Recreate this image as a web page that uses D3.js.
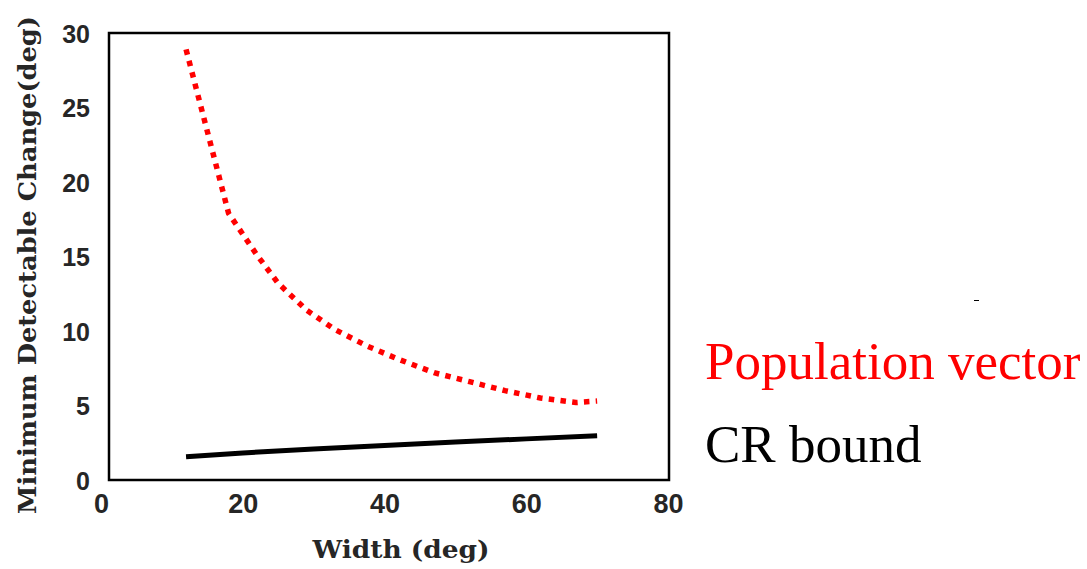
<!DOCTYPE html>
<html>
<head>
<meta charset="utf-8">
<script src="https://cdn.jsdelivr.net/npm/d3@7"></script>
<style>
  html, body { margin: 0; padding: 0; background: #fff; }
  svg { display: block; }
</style>
</head>
<body>
<svg id="chart" width="1087" height="569"></svg>
<script>
// Tuning width (deg) and minimum detectable change (deg)
const popWidths   = [12, 18, 22, 25, 29, 33, 37.5, 42, 47, 52, 57, 62, 67, 70];
const popValues   = [28.9, 17.9, 15.1, 13.2, 11.4, 10.1, 9.0, 8.1, 7.2, 6.6, 6.0, 5.5, 5.2, 5.3];
const crWidths    = [12, 20, 30, 40, 50, 60, 70];
const crValues    = [1.56, 1.82, 2.08, 2.32, 2.55, 2.76, 2.97];
const xTicks      = [0, 20, 40, 60, 80];
const yTicks      = [0, 5, 10, 15, 20, 25, 30];
const legendNames = ["Population vector", "CR bound"];

const svg = d3.select("#chart");

const x = d3.scaleLinear().domain([0, 80]).range([101, 668]);
const y = d3.scaleLinear().domain([0, 30]).range([480, 33]);

// plot frame
svg.append("rect")
  .attr("x", 109).attr("y", 33)
  .attr("width", 560).attr("height", 447)
  .attr("fill", "none").attr("stroke", "#000").attr("stroke-width", 2.5);

// x axis labels
const xAxis = d3.axisBottom(x).tickValues(xTicks).tickSize(0).tickFormat(d3.format("d"));
const gx = svg.append("g").attr("transform", "translate(0,480)").call(xAxis);
gx.select(".domain").remove();
gx.selectAll("text")
  .attr("y", 33).attr("dy", 0)
  .attr("fill", "#262626")
  .style("font-family", "'Liberation Sans', Arial, sans-serif")
  .style("font-weight", "bold")
  .style("font-size", "27px");

// y axis labels
const yAxis = d3.axisLeft(y).tickValues(yTicks).tickSize(0).tickFormat(d3.format("d"));
const gy = svg.append("g").attr("transform", "translate(90,0)").call(yAxis);
gy.select(".domain").remove();
gy.selectAll("text")
  .attr("x", 0).attr("dy", "0.36em")
  .attr("fill", "#262626")
  .style("font-family", "'Liberation Sans', Arial, sans-serif")
  .style("font-weight", "bold")
  .style("font-size", "25px");

// axis titles
svg.append("text")
  .attr("transform", "translate(36,265) rotate(-90)")
  .attr("text-anchor", "middle")
  .attr("textLength", 498).attr("lengthAdjust", "spacingAndGlyphs")
  .attr("fill", "#262626")
  .style("font-family", "'DejaVu Serif', serif")
  .style("font-weight", "bold")
  .style("font-size", "25px")
  .text("Minimum Detectable Change(deg)");

svg.append("text")
  .attr("x", 401).attr("y", 558)
  .attr("text-anchor", "middle")
  .attr("textLength", 177).attr("lengthAdjust", "spacingAndGlyphs")
  .attr("fill", "#262626")
  .style("font-family", "'DejaVu Serif', serif")
  .style("font-weight", "bold")
  .style("font-size", "25px")
  .text("Width (deg)");

// series lines
const line = d3.line().x(d => x(d[0])).y(d => y(d[1]));

svg.append("path")
  .datum(crWidths.map((w, i) => [w, crValues[i]]))
  .attr("d", line)
  .attr("fill", "none").attr("stroke", "#000").attr("stroke-width", 5);

svg.append("path")
  .datum(popWidths.map((w, i) => [w, popValues[i]]))
  .attr("d", line)
  .attr("fill", "none").attr("stroke", "#ff0000")
  .attr("stroke-width", 5.5).attr("stroke-dasharray", "5.5,6.3");

// legend
svg.append("text")
  .attr("x", 705).attr("y", 379)
  .attr("fill", "#ff0000")
  .style("font-family", "'Liberation Serif', 'Times New Roman', serif")
  .style("font-size", "53px")
  .text(legendNames[0]);

svg.append("text")
  .attr("x", 705).attr("y", 462)
  .attr("fill", "#000")
  .style("font-family", "'Liberation Serif', 'Times New Roman', serif")
  .style("font-size", "53px")
  .text(legendNames[1]);

// small stray stroke above the legend
svg.append("line")
  .attr("x1", 974).attr("x2", 979).attr("y1", 300.5).attr("y2", 300.5)
  .attr("stroke", "#000").attr("stroke-width", 1);
</script>
</body>
</html>
